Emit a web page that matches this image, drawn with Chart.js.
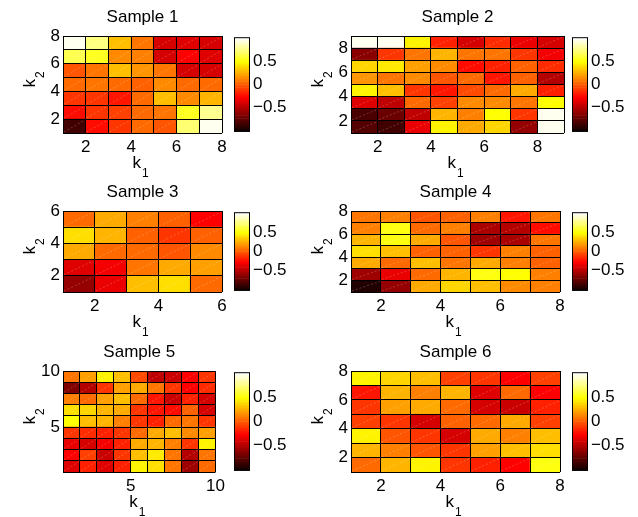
<!DOCTYPE html>
<html><head><meta charset="utf-8">
<script src="https://cdn.jsdelivr.net/npm/chart.js@4"></script>
<style>html,body{margin:0;padding:0;background:#fff;}body{width:638px;height:517px;position:relative;overflow:hidden;}canvas{position:absolute;}</style>
</head><body>
<script>
// ---- data (rows listed top k2 row first, each row k1 = 1,2,...) ----
const titles = ['Sample 1','Sample 2','Sample 3','Sample 4','Sample 5','Sample 6'];
const sample1 = [
 [1.00, 0.75, 0.30, 0.08, -0.40, -0.37, -0.40],
 [0.68, 0.58, 0.15, 0.12, -0.40, -0.27, -0.38],
 [-0.02, 0.08, 0.30, 0.18, 0.08, -0.40, -0.42],
 [0.05, 0.07, 0.04, 0.03, 0.15, 0.06, 0.04],
 [-0.10, -0.12, -0.22, 0.05, 0.32, 0.15, 0.27],
 [-0.24, -0.10, -0.07, 0.06, 0.09, 0.56, 0.80],
 [-0.85, -0.23, -0.13, 0.05, -0.03, 0.74, 1.00]
];
const sample2 = [
 [1.00, 1.00, 0.48, -0.17, -0.40, -0.15, -0.33, -0.40],
 [-0.63, -0.10, 0.08, 0.27, 0.08, 0.07, -0.10, -0.32],
 [0.36, 0.43, 0.22, 0.16, -0.23, -0.19, 0.03, -0.15],
 [0.19, 0.09, 0.15, -0.03, 0.06, -0.22, 0.03, -0.52],
 [0.46, 0.32, -0.13, -0.20, -0.04, 0.06, 0.25, -0.19],
 [-0.38, -0.47, 0.05, -0.07, 0.16, 0.15, 0.07, 0.50],
 [-0.82, -0.72, -0.47, 0.28, 0.12, 0.50, -0.13, 1.00],
 [-0.79, -0.85, -0.35, 0.48, 0.25, 0.36, -0.60, 1.00]
];
const sample3 = [
 [0.05, 0.25, 0.12, 0.00, -0.29],
 [0.40, 0.28, 0.00, -0.10, 0.03],
 [0.25, 0.05, 0.04, -0.01, 0.14],
 [-0.37, -0.30, 0.07, 0.25, 0.20],
 [-0.60, -0.35, 0.30, 0.40, 0.05]
];
const sample4 = [
 [0.08, 0.12, -0.03, 0.02, 0.10, -0.20, 0.08],
 [0.12, 0.55, 0.06, 0.12, -0.55, -0.52, -0.23],
 [0.28, 0.54, 0.23, -0.03, -0.57, -0.55, 0.09],
 [0.40, 0.30, 0.03, 0.02, -0.10, 0.12, 0.03],
 [0.23, 0.06, 0.32, 0.08, 0.23, 0.10, 0.00],
 [-0.57, -0.33, 0.06, 0.27, 0.52, 0.50, 0.12],
 [-0.97, -0.60, 0.25, 0.38, 0.30, 0.15, 0.12]
];
const sample5 = [
 [0.07, 0.20, 0.46, 0.30, -0.06, -0.47, -0.44, -0.29, -0.13],
 [-0.66, -0.52, -0.10, 0.20, 0.23, 0.09, -0.12, -0.28, -0.15],
 [0.12, 0.06, 0.20, 0.32, 0.05, -0.22, -0.44, -0.19, -0.40],
 [0.40, 0.38, 0.27, 0.25, -0.10, -0.22, -0.23, 0.03, -0.40],
 [0.50, 0.32, 0.27, 0.12, -0.13, -0.19, 0.05, 0.08, -0.13],
 [-0.13, -0.15, -0.19, -0.10, 0.05, 0.23, 0.30, 0.15, 0.20],
 [-0.35, -0.40, -0.32, -0.17, 0.25, 0.27, 0.12, -0.13, 0.48],
 [-0.29, -0.07, -0.44, -0.10, 0.32, 0.43, 0.08, -0.52, 0.08],
 [-0.36, -0.17, -0.36, -0.17, 0.46, 0.40, 0.08, -0.57, 0.06]
];
const sample6 = [
 [0.48, 0.38, 0.30, -0.07, -0.13, -0.27, -0.07],
 [-0.22, 0.28, 0.10, 0.28, -0.38, 0.05, -0.27],
 [-0.10, 0.20, 0.25, 0.06, -0.40, -0.44, -0.17],
 [-0.07, -0.12, -0.40, 0.03, 0.05, 0.25, -0.07],
 [0.46, -0.03, -0.10, -0.40, 0.23, 0.10, 0.32],
 [0.28, 0.10, -0.03, -0.12, 0.20, 0.30, 0.42],
 [0.06, 0.28, 0.48, -0.10, -0.17, -0.27, 0.52]
];
const xTicks1 = [2,4,6,8], yTicks1 = [2,4,6,8];
const xTicks2 = [2,4,6,8], yTicks2 = [2,4,6,8];
const xTicks3 = [2,4,6],   yTicks3 = [2,4,6];
const xTicks4 = [2,4,6,8], yTicks4 = [2,4,6,8];
const xTicks5 = [5,10],    yTicks5 = [5,10];
const xTicks6 = [2,4,6,8], yTicks6 = [2,4,6,8];
const colorbarTicks = [-0.5, 0, 0.5];
const colorLimit = 1.04;
const xLabel = ['k', '1'], yLabel = ['k', '2'];   // k with subscript

// ---- layout (page pixel boxes: plot left, top, right, bottom; colorbar left, right) ----
const layoutBoxes = [
 {box:[63,36,222,133], cb:[234,250]},
 {box:[351,36,564,133], cb:[572,588]},
 {box:[63,211,222,292], cb:[234,250]},
 {box:[351,211,560,292], cb:[572,588]},
 {box:[63,371,217,472], cb:[234,250]},
 {box:[351,371,560,472], cb:[572,588]}
];
const samples = [sample1,sample2,sample3,sample4,sample5,sample6];
const xTicksAll = [xTicks1,xTicks2,xTicks3,xTicks4,xTicks5,xTicks6];
const yTicksAll = [yTicks1,yTicks2,yTicks3,yTicks4,yTicks5,yTicks6];

const FONT = "'Liberation Sans', Arial, Helvetica, sans-serif";
Chart.defaults.font.family = FONT;
Chart.defaults.color = '#000';

function hot(v){
  const t = (v + colorLimit) / (2*colorLimit);
  const k = Math.min(Math.max(Math.floor(t*64)+1, 1), 64);
  const r = Math.min(k/24,1), g = Math.min(Math.max((k-24)/24,0),1), b = Math.min(Math.max((k-48)/16,0),1);
  return 'rgb(' + Math.round(r*255) + ',' + Math.round(g*255) + ',' + Math.round(b*255) + ')';
}
function makeCanvas(left, top, w, h){
  const c = document.createElement('canvas');
  c.width = w; c.height = h;
  c.style.left = left+'px'; c.style.top = top+'px';
  c.style.width = w+'px'; c.style.height = h+'px';
  document.body.appendChild(c);
  return c;
}
const framePlugin = {
  id:'frame',
  afterDatasetsDraw(chart){
    const a = chart.chartArea, ctx = chart.ctx;
    ctx.save(); ctx.strokeStyle = '#000'; ctx.lineWidth = 1;
    ctx.strokeRect(a.left+0.5, a.top+0.5, a.right-a.left-1, a.bottom-a.top-1);
    ctx.restore();
  }
};
const diagPlugin = {
  id:'diag',
  afterDatasetsDraw(chart){
    const ctx = chart.ctx;
    ctx.save(); ctx.strokeStyle = 'rgba(255,255,255,0.38)'; ctx.lineWidth = 0.6; ctx.setLineDash([2,2]);
    chart.getDatasetMeta(0).data.forEach(el => {
      const p = el.getProps(['x','y','base','width'], true);
      ctx.beginPath(); ctx.moveTo(p.x - p.width/2 + 1, p.base - 1); ctx.lineTo(p.x + p.width/2 - 1, p.y + 1); ctx.stroke();
    });
    ctx.restore();
  }
};
const MAINF = '17px ' + FONT, SUBF = '12px ' + FONT;
const subLabelPlugin = {
  id:'subLabel',
  afterDraw(chart, args, opts){
    const a = chart.chartArea, ctx = chart.ctx;
    ctx.save(); ctx.fillStyle = '#000'; ctx.textBaseline = 'alphabetic'; ctx.textAlign = 'left';
    const draw = (lab) => {
      ctx.font = MAINF; const wk = ctx.measureText(lab[0]).width;
      ctx.font = SUBF; const ws = ctx.measureText(lab[1]).width;
      const x0 = -(wk + 1 + ws)/2;
      ctx.font = MAINF; ctx.fillText(lab[0], x0, 0);
      ctx.font = SUBF; ctx.fillText(lab[1], x0 + wk + 1, 9);
    };
    ctx.save();
    ctx.translate((a.left + a.right)/2 - 2, a.bottom + 35);
    draw(opts.x);
    ctx.restore();
    ctx.save();
    ctx.translate(a.left - 28, (a.top + a.bottom)/2);
    ctx.rotate(-Math.PI/2);
    ctx.translate(5, 0);
    draw(opts.y);
    ctx.restore();
    ctx.restore();
  }
};
const tickFmt = v => (v < 0 ? '\u2212' + Math.abs(v) : String(v));
const range = (a, b) => { const r = []; for (let v = a; v <= b; v++) r.push(v); return r; };

samples.forEach((data, i) => {
  const [L,T,R,B] = layoutBoxes[i].box;
  const padL = 50, padT = 30, padR = 12, padB = 52;
  const cv = makeCanvas(L-padL, T-padT, R-L+padL+padR, B-T+padT+padB);
  const rows = data.length, cols = data[0].length;
  const pts = [];
  data.forEach((row, r) => row.forEach((v, c) => pts.push({x: c+1.5, y: [rows-r, rows-r+1], v: v})));
  const xt = xTicksAll[i], yt = yTicksAll[i];
  new Chart(cv, {
    type:'bar',
    data:{datasets:[{data: pts, backgroundColor: pts.map(p => hot(p.v)), borderWidth:0, grouped:false, barPercentage:1, categoryPercentage:1}]},
    options:{
      responsive:false, animation:false, devicePixelRatio:1,
      layout:{padding:{left:0, top:0, right:padR, bottom:0}},
      plugins:{
        legend:{display:false}, tooltip:{enabled:false},
        title:{display:true, text: titles[i], fullSize:false, color:'#000',
          font:{family:FONT, size:17, weight:'normal', lineHeight:'20px'}, padding:{top:1, bottom:9}},
        subLabel:{x: xLabel, y: yLabel}
      },
      scales:{
        x:{type:'linear', min:1, max:cols+1, offset:false,
          grid:{display:true, offset:false, drawTicks:false, color:'#000', lineWidth:1, z:1}, border:{display:false},
          ticks:{autoSkip:false, maxRotation:0, padding:4, font:{size:17}, color:'#000', callback: v => (xt.includes(v) ? String(v) : '')},
          afterBuildTicks: s => { s.ticks = range(1, cols+1).map(v => ({value:v})); },
          afterFit: s => { s.height = padB; }
        },
        y:{type:'linear', min:1, max:rows+1,
          grid:{display:true, drawTicks:false, color:'#000', lineWidth:1, z:1}, border:{display:false},
          ticks:{autoSkip:false, padding:3, font:{size:17}, color:'#000', callback: v => (yt.includes(v) ? String(v) : '')},
          afterBuildTicks: s => { s.ticks = range(1, rows+1).map(v => ({value:v})); },
          afterFit: s => { s.width = padL; }
        }
      }
    },
    plugins:[diagPlugin, subLabelPlugin]
  });

  // colorbar
  const [cbL, cbR] = layoutBoxes[i].cb;
  const cbPadL = 2, cbPadV = 12, cbAxisW = 45;
  const cv2 = makeCanvas(cbL-cbPadL, T-cbPadV, cbR-cbL+cbPadL+cbAxisW, B-T+2*cbPadV);
  const nLev = 64, step = 2*colorLimit/nLev;
  const levels = [];
  for (let k = 0; k < nLev; k++) levels.push({x:0.5, y:[-colorLimit + k*step, -colorLimit + (k+1)*step], v: -colorLimit + (k+0.5)*step});
  new Chart(cv2, {
    type:'bar',
    data:{datasets:[{data: levels, backgroundColor: levels.map(l => hot(l.v)), borderWidth:0, grouped:false, barPercentage:1, categoryPercentage:1}]},
    options:{
      responsive:false, animation:false, devicePixelRatio:1,
      layout:{padding:{left:cbPadL, top:cbPadV, right:0, bottom:cbPadV}},
      plugins:{legend:{display:false}, tooltip:{enabled:false}},
      scales:{
        x:{type:'linear', min:0, max:1, offset:false, display:false},
        y:{type:'linear', position:'right', min:-colorLimit, max:colorLimit,
          grid:{display:false, drawTicks:false}, border:{display:false},
          ticks:{autoSkip:false, padding:3, font:{size:17}, color:'#000', callback: tickFmt},
          afterBuildTicks: s => { s.ticks = colorbarTicks.map(v => ({value:v})); },
          afterFit: s => { s.width = cbAxisW; }
        }
      }
    },
    plugins:[framePlugin]
  });
});
</script>
</body></html>
